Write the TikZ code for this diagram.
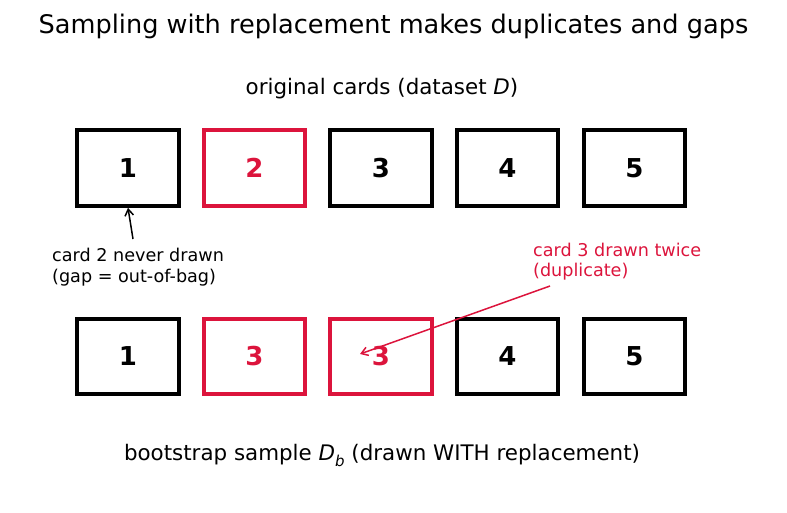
\documentclass[tikz,border=0pt]{standalone}
\usepackage{fontspec}
\usetikzlibrary{arrows.meta}
\setmainfont{DejaVu Sans}
\definecolor{crim}{HTML}{DC143C}
\tikzset{
  card/.style={draw=black, line width=4.2pt, minimum width=101.5pt, minimum height=75.5pt, inner sep=0pt, font=\fontsize{26}{28}\selectfont\bfseries},
  redcard/.style={card, draw=crim, text=crim},
  note/.style={font=\fontsize{17.6}{20.5}\selectfont, align=left, inner sep=0pt},
  barb/.style={-{Straight Barb[length=6.5pt,width=8.5pt]}, line width=1.5pt},
}
\begin{document}
\begin{tikzpicture}[x=1pt,y=-1pt]
\useasboundingbox (0,0) rectangle (787,512);
\node[font=\fontsize{25.6}{30}\selectfont] (title) at (393.5,26) {Sampling with replacement makes duplicates and gaps};
\node[font=\fontsize{21.4}{25}\selectfont] (orig) at (382,88.5) {original cards (dataset \textit{D})};
\node[card] (t1) at (128,168) {1};
\node[redcard] (t2) at (254.5,168) {2};
\node[card] (t3) at (381,168) {3};
\node[card] (t4) at (507.5,168) {4};
\node[card] (t5) at (634.5,168) {5};
\node[card] (b1) at (128,356.5) {1};
\node[redcard] (b2) at (254.5,356.5) {3};
\node[redcard] (b3) at (381,356.5) {3};
\node[card] (b4) at (507.5,356.5) {4};
\node[card] (b5) at (634.5,356.5) {5};
\node[font=\fontsize{21.4}{25}\selectfont] (boot) at (382,455.5) {bootstrap sample \textit{D}\raisebox{-0.25em}{\fontsize{15}{17}\selectfont\textit{b}} (drawn WITH replacement)};
\node[note, anchor=north west] (gap) at (52,248) {card 2 never drawn\\(gap = out-of-bag)};
\node[note, anchor=north west, text=crim] (dup) at (533,242.5) {card 3 drawn twice\\(duplicate)};
\coordinate (gaptail) at (133,239);
\coordinate (duptail) at (550,286);
\coordinate (duphead) at (360,354);
\draw[barb] (gaptail) -- (t1.south);
\draw[barb, crim] (duptail) -- (duphead);
\end{tikzpicture}
\end{document}
